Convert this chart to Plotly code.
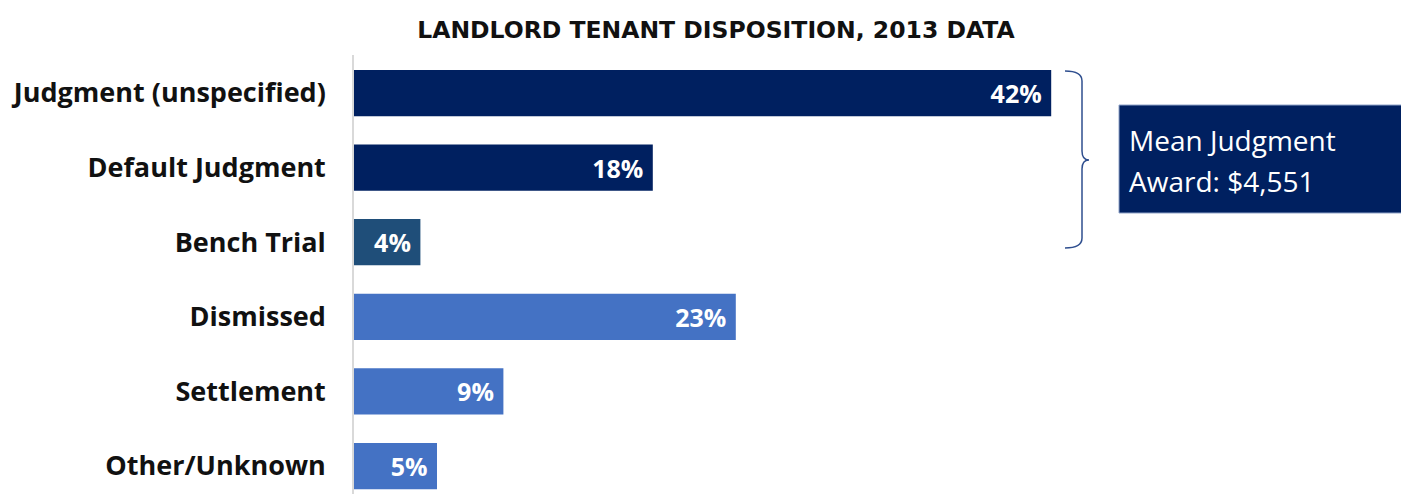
import plotly.graph_objects as go

categories = ["Judgment (unspecified)", "Default Judgment", "Bench Trial",
              "Dismissed", "Settlement", "Other/Unknown"]
values = [42, 18, 4, 23, 9, 5]
colors = ["#002060", "#002060", "#1F4E79", "#4472C4", "#4472C4", "#4472C4"]
title_text = "LANDLORD TENANT DISPOSITION, 2013 DATA"
box_lines = ["Mean Judgment", "Award: $4,551"]

W, H = 1409, 494
OFF = 8  # page body margin offset
L, T = 354 - OFF, 55 - OFF
R, B = 8, 8
PW, PH = W - L - R, H - T - B


def px(x):
    return (x - OFF - L) / PW


def py(y):
    return (H - B - (y - OFF)) / PH


fig = go.Figure(go.Bar(
    x=values, y=categories, orientation="h",
    marker=dict(color=colors, line=dict(width=0)),
    width=0.62,
    text=[f"{v}%" for v in values],
    textposition="inside", insidetextanchor="end",
    textfont=dict(family="Open Sans", size=25, color="white", weight="bold"),
    texttemplate="%{text} ",
    cliponaxis=False,
))

fig.update_layout(
    width=W, height=H,
    margin=dict(l=L, r=R, t=T, b=B, autoexpand=False),
    plot_bgcolor="white", paper_bgcolor="white",
    showlegend=False,
    title=dict(text=title_text, x=(716 - OFF) / W, xref="container", xanchor="center",
               y=1 - (30 - OFF) / H, yref="container", yanchor="middle",
               font=dict(family="DejaVu Sans", size=23.5, color="#111111", weight="bold")),
    xaxis=dict(range=[0, PW / 16.6], visible=False, fixedrange=True),
    yaxis=dict(
        categoryorder="array", categoryarray=categories,
        range=[5.375, -0.51],
        automargin=False,
        showline=True, linecolor="#D9D9D9", linewidth=1.5,
        showgrid=False, zeroline=False, ticks="",
        ticklabelstandoff=21,
        tickfont=dict(family="Open Sans", size=27, color="#111111", weight="bold"),
    ),
    font=dict(family="Open Sans"),
)

# brace
x0, x1, xt = 1065, 1082, 1089
y0, ym, y1 = 71, 160, 248
path = (f"M {px(x0)},{py(y0)} Q {px(x1)},{py(y0)} {px(x1)},{py(y0+10)} "
        f"L {px(x1)},{py(ym-9)} Q {px(x1)},{py(ym)} {px(xt)},{py(ym)} "
        f"Q {px(x1)},{py(ym)} {px(x1)},{py(ym+9)} "
        f"L {px(x1)},{py(y1-10)} Q {px(x1)},{py(y1)} {px(x0)},{py(y1)}")
fig.add_shape(type="path", path=path, xref="paper", yref="paper",
              line=dict(color="#2F4F8F", width=1.5))

# box
fig.add_shape(type="rect", xref="paper", yref="paper",
              x0=px(1119), x1=px(1412), y0=py(213), y1=py(105),
              fillcolor="#002060", line=dict(color="#8FA3C8", width=1), layer="above")
for i, line in enumerate(box_lines):
    fig.add_annotation(xref="paper", yref="paper", x=px(1127), y=py(140 + 41 * i),
                       xanchor="left", yanchor="middle", align="left",
                       text=line, showarrow=False,
                       font=dict(family="Open Sans", size=28, color="white"))

fig.write_html("out.html")
